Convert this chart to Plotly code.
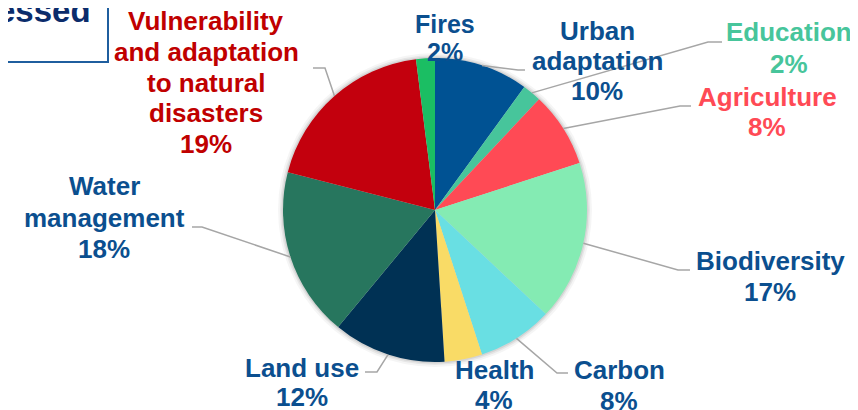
import math
import plotly.graph_objects as go

# ---------------- data ----------------
categories = ["Urban adaptation", "Education", "Agriculture", "Biodiversity", "Carbon",
              "Health", "Land use", "Water management",
              "Vulnerability and adaptation to natural disasters", "Fires"]
shares = [10, 2, 8, 17, 8, 4, 12, 18, 19, 2]
label_lines = [["Urban", "adaptation"], ["Education"], ["Agriculture"], ["Biodiversity"],
               ["Carbon"], ["Health"], ["Land use"], ["Water", "management"],
               ["Vulnerability", "and adaptation", "to natural", "disasters"], ["Fires"]]
title_fragment = "Addressed"

# ---------------- styles ----------------
slice_colors = ["#005293", "#47C59B", "#FF4A55", "#84EBB3", "#69DFE3",
                "#F9DB66", "#003154", "#27765E", "#C3000D", "#1BBE63"]
BLUE_TXT = "#0B4F8F"
label_colors = [BLUE_TXT, "#47C59B", "#FF4A55", BLUE_TXT, BLUE_TXT,
                BLUE_TXT, BLUE_TXT, BLUE_TXT, "#C00000", BLUE_TXT]
label_sizes = [26, 26, 26, 26, 26, 26, 26, 26, 26, 25]
# label block: centre x, first-line centre y, line spacing (window pixels)
label_pos = [(597, 31, 30), (789, 32, 32), (767, 97, 30), (770, 261, 31),
             (619, 370, 31), (494, 370, 30), (302, 368, 29), (104, 186, 31.5),
             (206, 21, 30.8), (445, 23.5, 28.5)]
# leader bends after the pie-edge point (window pixels), None = no leader
leader_pts = [[(518, 70), (525, 70)], [(708, 42), (722, 42)], [(680, 106), (691, 106)],
              [(678, 270), (690, 270)], [(557, 373), (568, 373)], None,
              [(377, 372), (365, 372)], [(202, 227), (192, 227)],
              [(325, 68), (313, 68)], None]

W, H = 858, 410
OFF = 8  # page body margin offset
CX, CY, R = 435, 210, 152
FONT = "Liberation Sans, Arial, sans-serif"


def px(x):
    return (x - OFF) / W


def py(y):
    return 1 - (y - OFF) / H


fig = go.Figure()
fig.add_trace(go.Pie(
    labels=categories, values=shares, sort=False, direction="clockwise", rotation=0,
    marker=dict(colors=slice_colors, line=dict(width=0)),
    textinfo="none", hoverinfo="label+percent", showlegend=False,
    domain=dict(x=[px(CX - R), px(CX + R)], y=[py(CY + R), py(CY - R)]),
))

shapes = []
# soft shadow behind the pie
for k, a in [(5, 0.04), (3, 0.06), (1.5, 0.08)]:
    shapes.append(dict(type="circle", xref="paper", yref="paper", layer="below",
                       x0=px(CX - R - k), x1=px(CX + R + k),
                       y0=py(CY + R + k), y1=py(CY - R - k),
                       fillcolor=f"rgba(0,0,0,{a})", line=dict(width=0)))

annotations = []
total = sum(shares)
cum = 0
for i, v in enumerate(shares):
    mid = (cum + v / 2) / total * 2 * math.pi
    cum += v
    ex, ey = CX + R * math.sin(mid), CY - R * math.cos(mid)
    if leader_pts[i]:
        pts = [(ex, ey)] + leader_pts[i]
        path = "M " + " L ".join(f"{px(x):.5f},{py(y):.5f}" for x, y in pts)
        shapes.append(dict(type="path", xref="paper", yref="paper", path=path,
                           line=dict(color="#A6A6A6", width=1.5)))
    lines = label_lines[i] + [f"{v}%"]
    lx, ly, sp = label_pos[i]
    for j, t in enumerate(lines):
        annotations.append(dict(
            x=px(lx), y=py(ly + j * sp), xref="paper", yref="paper",
            text=t, showarrow=False, xanchor="center", yanchor="middle",
            font=dict(family=FONT, size=label_sizes[i], color=label_colors[i], weight="bold"),
        ))

# partially visible title box at top-left
annotations.append(dict(x=px(93), y=py(31), xref="paper", yref="paper",
                        text=title_fragment, showarrow=False, xanchor="right", yanchor="bottom",
                        font=dict(family=FONT, size=33, color="#0B2C6B", weight="bold")))
shapes.append(dict(type="path", xref="paper", yref="paper",
                   path=f"M {px(108)},{py(-20)} L {px(108)},{py(62)} L {px(-20)},{py(62)}",
                   line=dict(color="#1F5E9E", width=2)))

fig.update_layout(width=W, height=H, margin=dict(l=0, r=0, t=0, b=0),
                  paper_bgcolor="white", plot_bgcolor="white",
                  shapes=shapes, annotations=annotations)
fig.write_html("out.html")
